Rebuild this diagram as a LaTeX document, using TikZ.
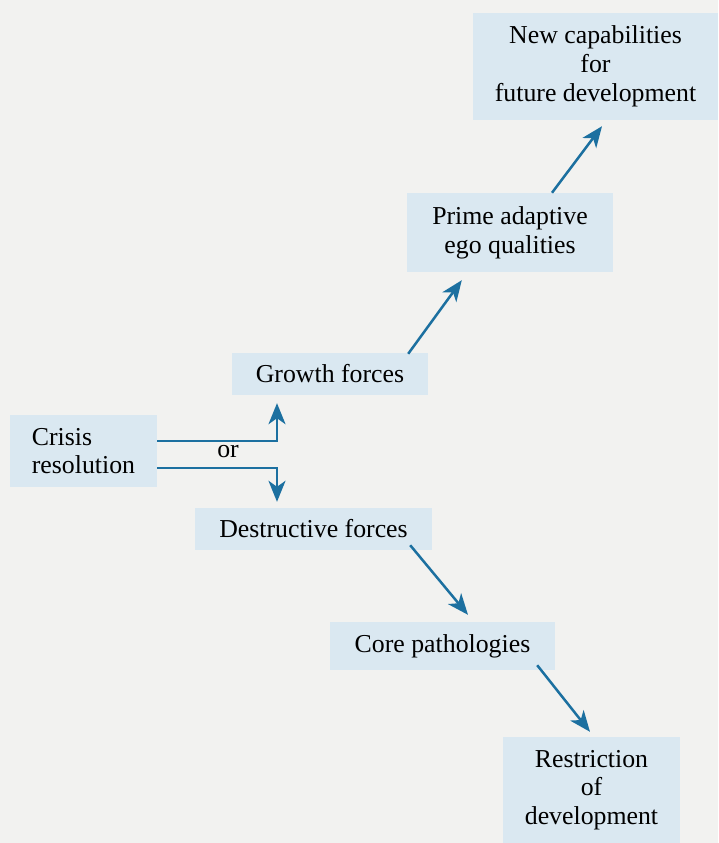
\documentclass[tikz,border=0pt]{standalone}
\usepackage{fontspec}
\setmainfont{Liberation Serif}
\usetikzlibrary{arrows.meta}

\definecolor{paper}{RGB}{242,242,240}
\definecolor{boxfill}{RGB}{218,232,241}
\definecolor{arrowblue}{RGB}{28,112,160}

\tikzset{
  stage/.style={fill=boxfill, inner sep=0pt, align=center,
    font=\fontsize{25.8}{28.8}\selectfont},
  arr/.style={draw=arrowblue, line width=2.5pt,
    -{Stealth[length=21pt, width=17pt, inset=6pt]}},
  plain/.style={font=\fontsize{25.8}{28.8}\selectfont, inner sep=0pt}
}

\begin{document}
\begin{tikzpicture}[x=1pt, y=-1pt]
  % page
  \fill[paper] (0,0) rectangle (718,843);
  \useasboundingbox (0,0) rectangle (718,843);

  % stages
  \node[stage, minimum width=245pt, minimum height=107pt] (newcap) at (595.5,66.5)
    {New capabilities\\for\\future development};
  \node[stage, minimum width=206pt, minimum height=79pt] (prime) at (510,232.5)
    {Prime adaptive\\ego qualities};
  \node[stage, minimum width=196pt, minimum height=42pt] (growth) at (330,374)
    {Growth forces};
  \node[stage, align=left, minimum width=147pt, minimum height=72pt] (crisis) at (83.5,451)
    {Crisis\\resolution};
  \node[plain] (or) at (228,452) {or};
  \node[stage, minimum width=237pt, minimum height=42pt] (destr) at (313.5,529)
    {Destructive forces};
  \node[stage, minimum width=225pt, minimum height=48pt] (core) at (442.5,646)
    {Core pathologies};
  \node[stage, minimum width=177pt, minimum height=106pt] (restr) at (591.5,790)
    {Restriction\\of\\development};

  % branching from the crisis
  \draw[arr] ([yshift=10pt]crisis.east) -| ([xshift=-53pt, yshift=-8pt]growth.south);
  \draw[arr] ([yshift=-17pt]crisis.east) -| ([xshift=-36.5pt, yshift=6pt]destr.north);

  % upward path
  \draw[arr] ([xshift=-20pt, yshift=-1pt]growth.north east) -- ([xshift=55pt, yshift=-8pt]prime.south west);
  \draw[arr] ([xshift=42pt]prime.north) -- ([xshift=6.5pt, yshift=-6pt]newcap.south);

  % downward path
  \draw[arr] ([xshift=-22pt, yshift=5pt]destr.south east) -- ([xshift=25.5pt, yshift=7pt]core.north);
  \draw[arr] ([xshift=-18pt, yshift=5pt]core.south east) -- ([xshift=-1.5pt, yshift=5pt]restr.north);
\end{tikzpicture}
\end{document}
